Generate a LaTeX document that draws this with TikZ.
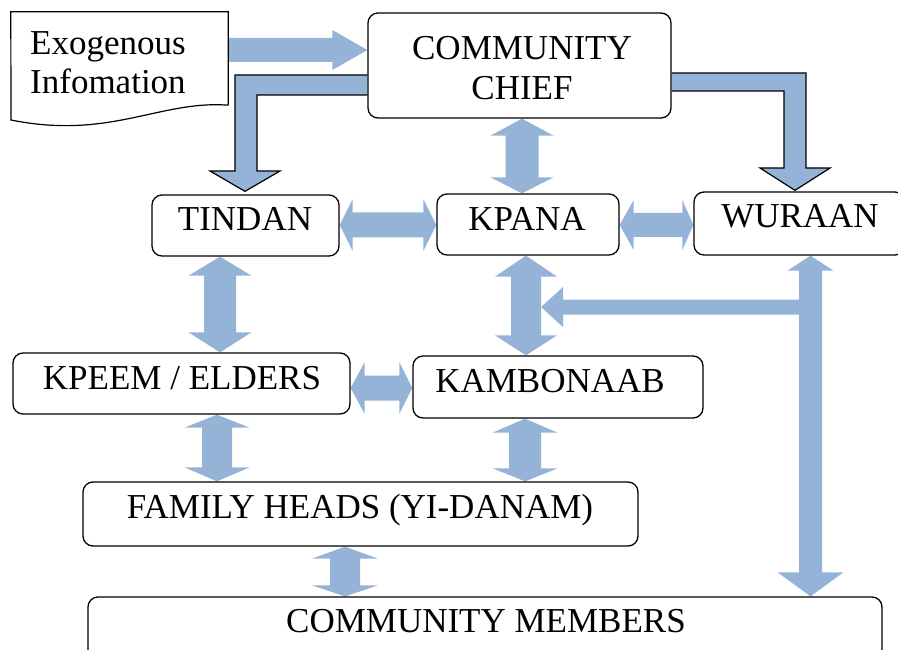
\documentclass[tikz,border=0pt]{standalone}
\usepackage{fontspec}
\setmainfont{Liberation Serif}
\newfontfamily\tnr{Liberation Serif}
\usetikzlibrary{calc}
\pgfdeclarelayer{bg}
\pgfsetlayers{bg,main}
\definecolor{arrowblue}{RGB}{149,179,215}
\tikzset{
  blk/.style={fill=arrowblue},
  blkout/.style={fill=arrowblue,draw=black,line width=1.2pt,line join=miter},
  box/.style={draw=black,fill=white,line width=1.3pt,rounded corners=10pt,inner sep=0pt,rectangle},
  lbl/.style={font=\tnr\fontsize{35}{41}\selectfont,inner sep=0pt,anchor=base},
}
% vertical double block arrow: x, top point, bottom point, shaft half, top head half, top len, bottom head half, bottom len
\newcommand\VArrow[8]{%
  \fill[blk] let \p1=#2, \p2=#3 in
  (#1pt,\y1) -- (#1pt+#5pt,\y1-#6pt) -- (#1pt+#4pt,\y1-#6pt) -- (#1pt+#4pt,\y2+#8pt)
  -- (#1pt+#7pt,\y2+#8pt) -- (#1pt,\y2) -- (#1pt-#7pt,\y2+#8pt) -- (#1pt-#4pt,\y2+#8pt)
  -- (#1pt-#4pt,\y1-#6pt) -- (#1pt-#5pt,\y1-#6pt) -- cycle;}
% horizontal double block arrow: y, left point, right point, shaft half, left head half, left len, right head half, right len
\newcommand\HArrow[8]{%
  \fill[blk] let \p1=#2, \p2=#3 in
  (\x1,-#1pt) -- (\x1+#6pt,-#1pt+#5pt) -- (\x1+#6pt,-#1pt+#4pt) -- (\x2-#8pt,-#1pt+#4pt)
  -- (\x2-#8pt,-#1pt+#7pt) -- (\x2,-#1pt) -- (\x2-#8pt,-#1pt-#7pt) -- (\x2-#8pt,-#1pt-#4pt)
  -- (\x1+#6pt,-#1pt-#4pt) -- (\x1+#6pt,-#1pt-#5pt) -- cycle;}
\begin{document}
\begin{tikzpicture}[x=1pt,y=-1pt]
\useasboundingbox (0,0) rectangle (898,650);
\clip (0,0) rectangle (898,650);

% boxes
\node[box,minimum width=303,minimum height=105] (chief) at (519.5,65.5) {};
\node[box,minimum width=187,minimum height=61] (tindan) at (245.5,225.5) {};
\node[box,minimum width=182,minimum height=61] (kpana) at (528,224.5) {};
\node[box,minimum width=211,minimum height=63] (wuraan) at (799.5,223.5) {};
\node[box,minimum width=337,minimum height=61] (kpeem) at (181.5,383.5) {};
\node[box,minimum width=290,minimum height=62] (kambonaab) at (558,387) {};
\node[box,minimum width=555,minimum height=64] (family) at (360.5,514) {};
\node[box,minimum width=794,minimum height=93] (members) at (485,643.5) {};

% exogenous document shape
\node[inner sep=0pt,minimum width=217,minimum height=93] (exo) at (119.5,58.5) {};
\filldraw[fill=white,draw=black,line width=1.2pt]
  (exo.south east) -- (exo.north east) -- (exo.north west) -- (11,120)
  .. controls (110,140) and (160,100) .. (exo.south east);

% labels
\node[lbl,anchor=base west] (exo1) at (30,55) {Exogenous};
\node[lbl,anchor=base west] (exo2) at (30,94) {Infomation};
\node[lbl] (chief1) at (522,60) {COMMUNITY};
\node[lbl] (chief2) at (522,100) {CHIEF};
\node[lbl] (tindanT) at (245,231) {TINDAN};
\node[lbl] (kpanaT) at (527,231) {KPANA};
\node[lbl] (wuraanT) at (800,228) {WURAAN};
\node[lbl] (kpeemT) at (182,389) {KPEEM / ELDERS};
\node[lbl] (kambonaabT) at (550,392) {KAMBONAAB};
\node[lbl] (familyT) at (360,518) {FAMILY HEADS (YI-DANAM)};
\node[lbl] (membersT) at (486,632) {COMMUNITY MEMBERS};

\coordinate (branchtip) at (541,307);
\coordinate (branchstart) at (816,307);

\begin{pgfonlayer}{bg}
% plain block arrows
\HArrow{50}{(exo.east)}{(chief.west)}{12}{12}{0}{20}{35}
\HArrow{225}{(tindan.east)}{(kpana.west)}{12.5}{26}{13}{26}{13}
\HArrow{225}{(kpana.east)}{(wuraan.west)}{12}{25}{14}{25}{11}
\HArrow{388}{(kpeem.east)}{(kambonaab.west)}{12.5}{26}{14}{26}{13}
\HArrow{307}{(branchtip)}{(branchstart)}{7.5}{20}{22}{7.5}{0}
\VArrow{522}{(chief.south)}{(kpana.north)}{16.5}{31.5}{17}{31.5}{16}
\VArrow{220}{(tindan.south)}{(kpeem.north)}{16}{31.5}{19}{31.5}{20}
\VArrow{526}{(kpana.south)}{(kambonaab.north)}{15}{31}{21}{31}{20}
\VArrow{810.5}{(wuraan.south)}{(members.north)}{11.5}{23}{15}{33}{24}
\VArrow{217}{(kpeem.south)}{(family.north)}{15}{32.5}{13}{32.5}{14}
\VArrow{525}{(kambonaab.south)}{(family.north)}{16}{32.5}{14}{32.5}{13}
\VArrow{345}{(family.south)}{(members.north)}{15}{33}{12}{33}{11}
% outlined bent arrows
\filldraw[blkout] let \p1=(chief.west), \p2=(tindan.north) in
  (\x1,-75pt) -- (235pt,-75pt) -- (235pt,-171pt) -- (210pt,-171pt) -- (245pt,\y2+3pt)
  -- (280pt,-171pt) -- (257pt,-171pt) -- (257pt,-95pt) -- (\x1,-95pt);
\filldraw[blkout] let \p1=(chief.east), \p2=(wuraan.north) in
  (\x1,-73pt) -- (806pt,-73pt) -- (806pt,-168pt) -- (830pt,-168pt) -- (795pt,\y2+1pt)
  -- (760pt,-168pt) -- (784pt,-168pt) -- (784pt,-91pt) -- (\x1,-91pt);
\end{pgfonlayer}
\end{tikzpicture}
\end{document}
